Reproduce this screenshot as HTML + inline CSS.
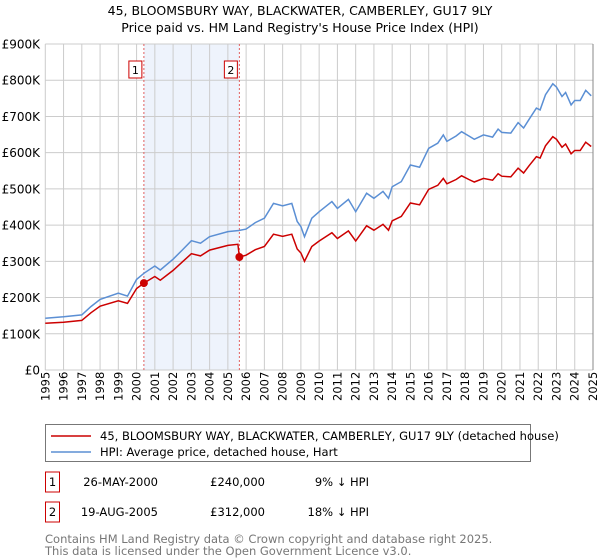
<!DOCTYPE html>
<html><head><meta charset="utf-8"><style>
body{margin:0;background:#fff;font-family:"Liberation Sans","DejaVu Sans",sans-serif;}
#wrap{position:relative;width:600px;height:560px;overflow:hidden;}
svg text{font-family:"DejaVu Sans","Liberation Sans",sans-serif;}
</style></head><body><div id="wrap">
<svg id="c" width="600" height="560"></svg>
</div>
<script>
const hpiYears=[1995,1996,1997,1997.5,1998,1999,1999.5,2000,2000.4,2001,2001.3,2002,2002.5,2003,2003.5,2004,2005,2005.6,2006,2006.5,2007,2007.5,2008,2008.5,2008.8,2009,2009.2,2009.6,2010,2010.7,2011,2011.6,2012,2012.6,2013,2013.5,2013.8,2014,2014.5,2015,2015.5,2016,2016.5,2016.8,2017,2017.5,2017.8,2018.2,2018.5,2019,2019.5,2019.8,2020,2020.5,2020.9,2021.2,2021.5,2021.9,2022.1,2022.4,2022.8,2023,2023.3,2023.5,2023.8,2024,2024.3,2024.6,2024.9];
const hpiValues=[143,147,152,175,195,212,204,250,267,287,276,306,331,357,350,368,382,385,389,407,419,460,453,460,410,396,368,419,437,465,446,471,437,488,474,493,474,506,520,566,560,612,626,649,631,646,658,646,637,649,643,665,656,654,683,668,692,723,718,760,790,781,755,766,732,744,744,772,757];
const priceYears=[1995,1996,1997,1997.5,1998,1999,1999.5,2000,2000.4,2001,2001.3,2002,2002.5,2003,2003.5,2004,2005,2005.55,2005.63,2006,2006.5,2007,2007.5,2008,2008.5,2008.8,2009,2009.2,2009.6,2010,2010.7,2011,2011.6,2012,2012.6,2013,2013.5,2013.8,2014,2014.5,2015,2015.5,2016,2016.5,2016.8,2017,2017.5,2017.8,2018.2,2018.5,2019,2019.5,2019.8,2020,2020.5,2020.9,2021.2,2021.5,2021.9,2022.1,2022.4,2022.8,2023,2023.3,2023.5,2023.8,2024,2024.3,2024.6,2024.9];
const priceValues=[129,132,137,158,176,191,184,225,240,258,248,275,298,321,315,331,344,347,312,317,332,341,375,369,375,334,323,300,341,356,379,363,384,356,398,386,402,386,412,424,461,456,499,510,529,514,526,536,526,519,529,524,542,535,533,557,544,564,589,585,619,644,637,615,624,597,606,606,629,617];
const saleYears=[2000.4,2005.63];
const saleValues=[240,312];
const saleLabels=["1","2"];
const yTicks=[0,100,200,300,400,500,600,700,800,900];
const yTickLabels=["£0","£100K","£200K","£300K","£400K","£500K","£600K","£700K","£800K","£900K"];
const xTicks=[];for(let y=1995;y<=2025;y++)xTicks.push(y);

const L=45.3,R=593,T=44,B=370;
const X=y=>L+(y-1995)*(R-L)/30;
const Y=v=>B-v*(B-T)/900;
const svg=document.getElementById('c');const NS='http://www.w3.org/2000/svg';
function mk(tag,attrs,parent){const e=document.createElementNS(NS,tag);for(const k in attrs)e.setAttribute(k,attrs[k]);(parent||svg).appendChild(e);return e;}

let t=mk('text',{x:300,y:15,'text-anchor':'middle','font-size':12.5,fill:'#000'});t.textContent='45, BLOOMSBURY WAY, BLACKWATER, CAMBERLEY, GU17 9LY';


t=mk('text',{x:300,y:32,'text-anchor':'middle','font-size':12.5,fill:'#000'});t.textContent="Price paid vs. HM Land Registry's House Price Index (HPI)";



let sh=mk('rect',{x:X(saleYears[0]),y:T,width:X(saleYears[1])-X(saleYears[0]),height:B-T,fill:'#eef3fc'});



xTicks.forEach(y=>{const l=mk('line',{x1:X(y),x2:X(y),y1:T,y2:B,stroke:'#cccccc','stroke-width':1});


const tx=mk('text',{transform:`translate(${X(y)+4},${B+31}) rotate(-90)`,'font-size':11.5,fill:'#000'});tx.textContent=y;

});
yTicks.forEach((v,i)=>{const l=mk('line',{x1:L,x2:R,y1:Y(v),y2:Y(v),stroke:'#cccccc','stroke-width':1});


const tx=mk('text',{x:40,y:Y(v)+4.5,'text-anchor':'end','font-size':12,fill:'#000'});tx.textContent=yTickLabels[i];

});
let rl=mk('line',{x1:R,x2:R,y1:T,y2:B,stroke:'#888','stroke-width':1});



saleYears.forEach((y,i)=>{const l=mk('line',{x1:X(y),x2:X(y),y1:T,y2:B,stroke:'#e06060','stroke-width':1,'stroke-dasharray':'2,2'});


const r=mk('rect',{x:X(y)-15,y:61,width:13,height:17,fill:'#fff',stroke:'#cc0000','stroke-width':1});


const tx=mk('text',{x:X(y)-8.5,y:74,'text-anchor':'middle','font-size':11,fill:'#000'});tx.textContent=saleLabels[i];

});

function path(xs,vs){return xs.map((x,i)=>(i?'L':'M')+X(x).toFixed(1)+','+Y(vs[i]).toFixed(1)).join('');}
let p=mk('path',{d:path(hpiYears,hpiValues),fill:'none',stroke:'#5b8fd4','stroke-width':1.5});


p=mk('path',{d:path(priceYears,priceValues),fill:'none',stroke:'#cc0000','stroke-width':1.5});


saleYears.forEach((y,i)=>{const c=mk('circle',{cx:X(y),cy:Y(saleValues[i]),r:4,fill:'#cc0000'});

});

// legend
let lg=mk('rect',{x:45.5,y:424.5,width:485,height:37,fill:'#fff',stroke:'#777','stroke-width':1});


let ll=mk('line',{x1:51,x2:91,y1:436,y2:436,stroke:'#cc0000','stroke-width':1.5});


t=mk('text',{x:100,y:440,'font-size':11.5,fill:'#000'});t.textContent='45, BLOOMSBURY WAY, BLACKWATER, CAMBERLEY, GU17 9LY (detached house)';


ll=mk('line',{x1:51,x2:91,y1:452,y2:452,stroke:'#5b8fd4','stroke-width':1.5});


t=mk('text',{x:100,y:456,'font-size':11.5,fill:'#000'});t.textContent='HPI: Average price, detached house, Hart';



const rows=[["1","26-MAY-2000","£240,000","9% ↓ HPI"],["2","19-AUG-2005","£312,000","18% ↓ HPI"]];
rows.forEach((r,i)=>{const cy=482+i*30;
const b=mk('rect',{x:45.5,y:cy-10,width:14,height:20,fill:'#fff',stroke:'#cc0000','stroke-width':1});


let a=mk('text',{x:52.5,y:cy+4,'text-anchor':'middle','font-size':11.5});a.textContent=r[0];


a=mk('text',{x:158,y:cy+4,'text-anchor':'end','font-size':11.5});a.textContent=r[1];


a=mk('text',{x:265,y:cy+4,'text-anchor':'end','font-size':11.5});a.textContent=r[2];


a=mk('text',{x:369,y:cy+4,'text-anchor':'end','font-size':11.5});a.textContent=r[3];

});
t=mk('text',{x:45,y:543,'font-size':11.5,fill:'#777'});t.textContent='Contains HM Land Registry data © Crown copyright and database right 2025.';


t=mk('text',{x:45,y:555,'font-size':11.5,fill:'#777'});t.textContent='This data is licensed under the Open Government Licence v3.0.';


</script></body></html>
